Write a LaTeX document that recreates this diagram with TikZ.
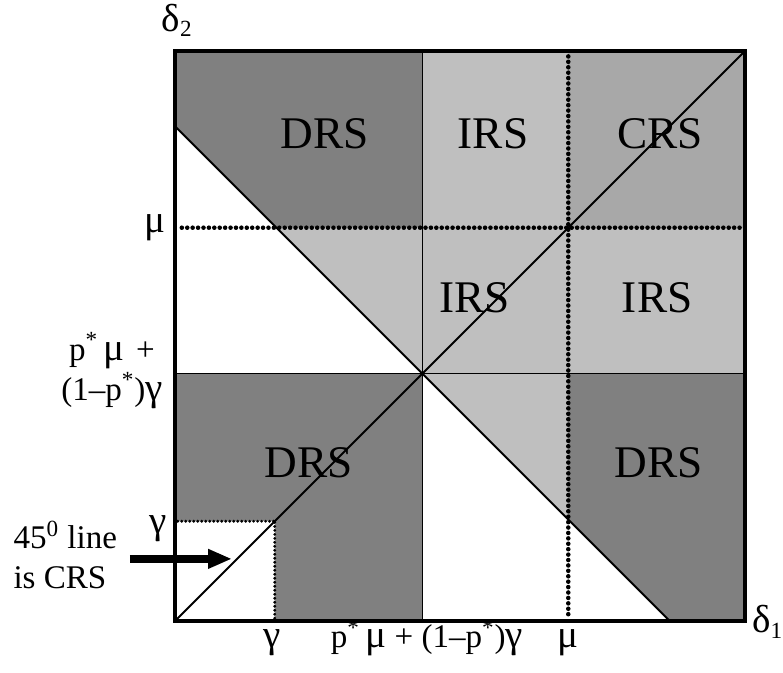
\documentclass[tikz,border=0pt]{standalone}
\usepackage{fontspec}
\setmainfont{Liberation Serif}
\usetikzlibrary{arrows.meta}
\newcommand\grk[1]{{\fontsize{19.5}{19.5}\selectfont #1}}

\begin{document}
\begin{tikzpicture}[x=1cm, y=1cm,
    region/.style={font=\fontsize{22.6}{27}\selectfont, inner sep=0pt},
    axlab/.style={font=\fontsize{16.5}{20}\selectfont, inner sep=0pt}]
    \useasboundingbox (-3.07,-0.912) rectangle (10.667,10.895);
    \def\g{1.75}
    \def\c{4.34}
    \def\m{6.9}
    \def\d{8.68}
    \colorlet{drsgray}{black!50}
    \colorlet{irsgray}{black!25}
    \colorlet{crsgray}{black!34}

    % 領域の塗り分け
    \fill[drsgray] (0,10) -- (\c,10) -- (\c,\m) -- (\d-\m,\m) -- (0,\d) -- cycle;
    \fill[irsgray] (\d-\m,\m) -- (\c,\m) -- (\c,\c) -- cycle;
    \fill[irsgray] (\c,\c) rectangle (\m,10);
    \fill[crsgray] (\m,\m) rectangle (10,10);
    \fill[irsgray] (\m,\c) rectangle (10,\m);
    \fill[drsgray] (0,0) rectangle (\c,\c);
    \fill[white] (0,0) rectangle (\g,\g);
    \fill[irsgray] (\c,\c) -- (\m,\c) -- (\m,\d-\m) -- cycle;
    \fill[drsgray] (\m,\c) -- (10,\c) -- (10,0) -- (\d,0) -- (\m,\d-\m) -- cycle;

    % 領域のラベル
    \node[region] (drsA) at (2.63,8.54) {DRS};
    \node[region] (irsA) at (5.58,8.54) {IRS};
    \node[region] (crsA) at (8.51,8.54) {CRS};
    \node[region] (irsB) at (5.26,5.67) {IRS};
    \node[region] (irsC) at (8.46,5.67) {IRS};
    \node[region] (drsB) at (2.35,2.77) {DRS};
    \node[region] (drsC) at (8.49,2.77) {DRS};

    % 境界線
    \draw[line width=0.75pt] (\c,0) -- (\c,10);
    \draw[line width=0.75pt] (0,\c) -- (10,\c);
    \draw[line width=1pt] (0,0) -- (10,10);
    \draw[line width=1pt] (0,\d) -- (\d,0);

    % mu の点線（丸い点を並べる）
    \foreach \t in {0.12,0.215,...,9.95} {
        \fill (\t,\m) circle (0.04);
        \fill (\m,\t) circle (0.04);
    }
    % gamma の小さな正方形
    \foreach \t in {0.05,0.12,...,1.76} {
        \fill (\t,\g) circle (0.028);
        \fill (\g,\t) circle (0.028);
    }

    % 外枠
    \draw[line width=2pt] (0,0) rectangle (10,10);

    % 軸のラベル
    \node[axlab, anchor=base] (d2) at (0.04,10.35) {\grk{δ}\textsubscript{2}};
    \node[axlab, anchor=base west] (d1) at (10.12,-0.21) {\grk{δ}\textsubscript{1}};
    \node[axlab, anchor=base] (muY) at (-0.35,6.82) {\grk{μ}};
    \node[axlab, align=center] (pY) at (-1.105,4.39)
        {p\textsuperscript{*}\,\grk{μ}\hspace{0.35em}+\\(1–p\textsuperscript{*})\grk{γ}};
    \node[axlab, anchor=base] (gY) at (-0.30,1.54) {\grk{γ}};
    \node[axlab, anchor=base] (gX) at (1.70,-0.47) {\grk{γ}};
    \node[axlab, anchor=base] (pX) at (4.42,-0.47)
        {p\textsuperscript{*}\,\grk{μ} + (1–p\textsuperscript{*})\grk{γ}};
    \node[axlab, anchor=base] (muX) at (6.89,-0.47) {\grk{μ}};

    % 45度線の注記と矢印
    \node[axlab, align=left, anchor=west] (note) at (-2.84,1.16)
        {45\textsuperscript{0} line\\is CRS};
    \coordinate (arrS) at (-0.79,1.09);
    \coordinate (arrE) at (1.0,1.09);
    \draw[line width=4pt, -{Triangle[length=0.42cm, width=0.32cm]}] (arrS) -- (arrE);

\end{tikzpicture}
\end{document}
